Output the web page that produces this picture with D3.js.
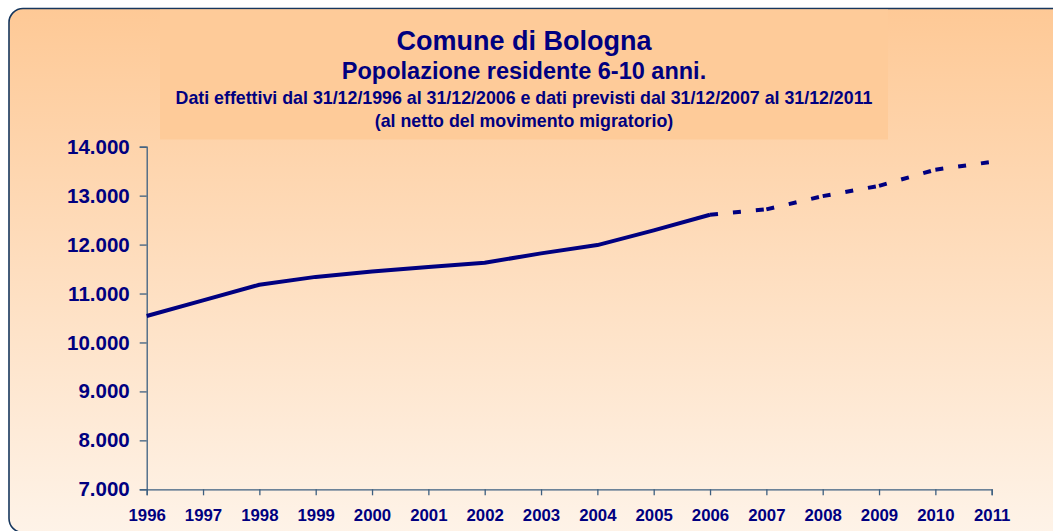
<!DOCTYPE html>
<html>
<head>
<meta charset="utf-8">
<script src="https://cdn.jsdelivr.net/npm/d3@7"></script>
<style>
  html, body { margin: 0; padding: 0; background: #ffffff; }
  svg { display: block; }
  text { font-family: "Liberation Sans", Arial, sans-serif; font-weight: bold; fill: #000080; }
</style>
</head>
<body>
<svg id="chart" width="1053" height="531"></svg>
<script>
// ---- data ----
const years = [1996, 1997, 1998, 1999, 2000, 2001, 2002, 2003, 2004, 2005, 2006, 2007, 2008, 2009, 2010, 2011];
const actualYears = [1996, 1997, 1998, 1999, 2000, 2001, 2002, 2003, 2004, 2005, 2006];
const actualValues = [10540, 10860, 11180, 11340, 11450, 11540, 11630, 11820, 11990, 12290, 12610];
const forecastYears = [2006, 2007, 2008, 2009, 2010, 2011];
const forecastValues = [12610, 12720, 12990, 13200, 13530, 13690];
const yTicks = [7000, 8000, 9000, 10000, 11000, 12000, 13000, 14000];
const titleLines = [
  "Comune di Bologna",
  "Popolazione residente 6-10 anni.",
  "Dati effettivi dal 31/12/1996 al 31/12/2006 e dati previsti dal 31/12/2007 al 31/12/2011",
  "(al netto del movimento migratorio)"
];

// ---- drawing ----
const svg = d3.select("#chart");
const defs = svg.append("defs");
const grad = defs.append("linearGradient").attr("id", "bg").attr("x1", 0).attr("y1", 0).attr("x2", 0).attr("y2", 1);
grad.append("stop").attr("offset", "0%").attr("stop-color", "#fec996");
grad.append("stop").attr("offset", "100%").attr("stop-color", "#fef3e8");

svg.append("rect")
  .attr("x", 9).attr("y", 8.5).attr("width", 1080).attr("height", 524)
  .attr("rx", 14).attr("ry", 14)
  .attr("fill", "url(#bg)")
  .attr("stroke", "#17375e").attr("stroke-width", 1.6);

// title box
svg.append("rect")
  .attr("x", 160).attr("y", 9.5).attr("width", 728).attr("height", 130)
  .attr("fill", "#fecb99");

const titleSpecs = [
  { size: 27, y: 50 },
  { size: 23.5, y: 79 },
  { size: 17.8, y: 104 },
  { size: 17.8, y: 127 }
];
svg.selectAll("text.title").data(titleLines).join("text")
  .attr("class", "title")
  .attr("x", 524)
  .attr("y", (d, i) => titleSpecs[i].y)
  .attr("text-anchor", "middle")
  .style("font-size", (d, i) => titleSpecs[i].size + "px")
  .text(d => d);

const x = d3.scaleLinear().domain([1996, 2011]).range([146.7, 991.7]);
const y = d3.scaleLinear().domain([7000, 14000]).range([489.3, 146.7]);
const it = d3.formatLocale({ decimal: ",", thousands: ".", grouping: [3], currency: ["€", ""] });
const fmt = it.format(",d");

const axisColor = "#3d5f80";

// Y axis
const yAxis = svg.append("g").attr("transform", `translate(${x(1996)},0)`)
  .call(d3.axisLeft(y).tickValues(yTicks).tickSize(7).tickPadding(10).tickFormat(fmt));
yAxis.select(".domain").attr("stroke", axisColor).attr("stroke-width", 1.3);
yAxis.selectAll(".tick line").attr("stroke", axisColor).attr("stroke-width", 1.3);
yAxis.selectAll(".tick text")
  .attr("fill", "#000080")
  .style("font-size", "20.5px")
  .style("font-family", "'Liberation Sans', Arial, sans-serif")
  .style("font-weight", "bold");

// X axis
const xAxis = svg.append("g").attr("transform", `translate(0,${y(7000)})`)
  .call(d3.axisBottom(x).tickValues(years).tickSize(6).tickPadding(14).tickFormat(d3.format("d")));
xAxis.select(".domain").attr("stroke", axisColor).attr("stroke-width", 1.3);
xAxis.selectAll(".tick line").attr("stroke", axisColor).attr("stroke-width", 1.3);
xAxis.selectAll(".tick text")
  .attr("fill", "#000080")
  .style("font-size", "16.8px")
  .style("font-family", "'Liberation Sans', Arial, sans-serif")
  .style("font-weight", "bold");

// actual line
const actual = actualYears.map((yr, i) => ({ yr, v: actualValues[i] }));
const line = d3.line().x(d => x(d.yr)).y(d => y(d.v));
svg.append("path")
  .datum(actual)
  .attr("d", line)
  .attr("fill", "none")
  .attr("stroke", "#000080")
  .attr("stroke-width", 4)
  .attr("stroke-linejoin", "round");

// forecast (each segment restarts dash pattern)
const forecast = forecastYears.map((yr, i) => ({ yr, v: forecastValues[i] }));
const segs = d3.pairs(forecast);
svg.selectAll("path.fc").data(segs).join("path")
  .attr("class", "fc")
  .attr("d", d => line(d))
  .attr("fill", "none")
  .attr("stroke", "#000080")
  .attr("stroke-width", 4)
  .attr("stroke-dasharray", "8,15");
</script>
</body>
</html>
